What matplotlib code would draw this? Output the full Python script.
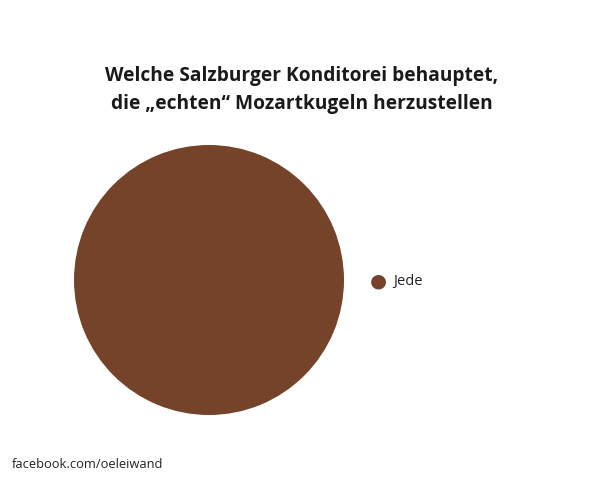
import matplotlib
matplotlib.use("Agg")
import matplotlib.pyplot as plt

# Daten
labels = ["Jede"]
values = [100]
colors = ["#74432A"]

title = "Welche Salzburger Konditorei behauptet,\ndie \u201eechten\u201c Mozartkugeln herzustellen"
footer = "facebook.com/oeleiwand"

plt.rcParams['font.family'] = ['Open Sans', 'DejaVu Sans']

fig = plt.figure(figsize=(6.16, 4.8), dpi=100)
ax = fig.add_axes([74/616, 65/480, 270/616, 270/480])
ax.pie(values, colors=colors, startangle=90, counterclock=False,
       wedgeprops=dict(linewidth=0))
ax.set_xlim(-1, 1)
ax.set_ylim(-1, 1)
ax.set_aspect('equal')
ax.axis('off')

# Legende
for i, lab in enumerate(labels):
    fig.text(378/616, 1 - 281/480, "\u25CF", color=colors[i], fontsize=14,
             ha='center', va='center', family=['DejaVu Sans'])
    fig.text(393/616, 1 - 281/480, lab, fontsize=10.5, color='#222222',
             ha='left', va='center')

fig.text(302/616, 1 - 90/480, title, fontsize=13.8, fontweight='bold',
         ha='center', va='center', linespacing=1.55, color='#1a1a1a')
fig.text(12/616, 1 - 465/480, footer, fontsize=9.3, color='#222222',
         ha='left', va='center')

fig.savefig("out.png", dpi=100, facecolor='white')
